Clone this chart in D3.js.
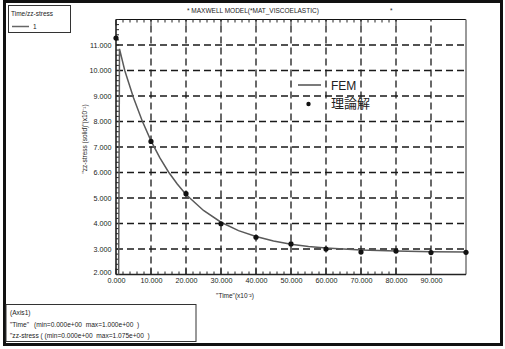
<!DOCTYPE html>
<meta charset="utf-8">
<script src="https://d3js.org/d3.v7.min.js"></script>
<style>
  body { margin: 0; background: #fff; }
  text { font-family: "Liberation Sans", Arial, sans-serif; fill: #222; }
</style>
<div id="chart"></div>
<script>
// data
var xTicks = [0, 10, 20, 30, 40, 50, 60, 70, 80, 90];
var yTicks = [2, 3, 4, 5, 6, 7, 8, 9, 10, 11];

// FEM curve (time x10^-2, stress x10^-1)
var femTime   = [0.7, 1, 2.5, 5, 7.5, 10, 12.5, 15, 17.5, 20, 25, 30, 35, 40, 45, 50, 55, 60, 70, 80, 90, 100];
var femStress = [0, 10.85, 10.0, 8.93, 8.02, 7.24, 6.58, 6.02, 5.55, 5.14, 4.51, 4.05, 3.72, 3.49, 3.31, 3.19, 3.10, 3.04, 2.96, 2.92, 2.89, 2.88];

// theoretical solution points
var theoTime   = [0, 10, 20, 30, 40, 50, 60, 70, 80, 90, 100];
var theoStress = [11.27, 7.22, 5.17, 3.99, 3.46, 3.2, 3.0, 2.88, 2.92, 2.86, 2.87];

var W = 505, H = 349;
var svg = d3.select("#chart").append("svg")
    .attr("width", W)
    .attr("height", H);

var x = d3.scaleLinear().domain([0, 100]).range([116, 466]);
var y = d3.scaleLinear().domain([2, 12]).range([274.5, 19.5]);

// outer frame
svg.append("rect")
    .attr("x", 4.5).attr("y", 1.5)
    .attr("width", 497).attr("height", 343)
    .attr("fill", "none").attr("stroke", "#111").attr("stroke-width", 3);

// top-left legend box
svg.append("rect")
    .attr("x", 8.5).attr("y", 5.5).attr("width", 62).attr("height", 27)
    .attr("fill", "none").attr("stroke", "#333").attr("stroke-width", 1);
svg.append("text").attr("x", 11).attr("y", 16).style("font-size", "6.5px").text("Time/zz-stress");
svg.append("line").attr("x1", 12).attr("x2", 29).attr("y1", 26.5).attr("y2", 26.5)
    .attr("stroke", "#666").attr("stroke-width", 1.5);
svg.append("text").attr("x", 33).attr("y", 29).style("font-size", "6.5px").text("1");

// title
svg.append("text").attr("x", 187).attr("y", 13).style("font-size", "6.5px")
    .text("* MAXWELL MODEL(*MAT_VISCOELASTIC)");
svg.append("text").attr("x", 390).attr("y", 13).style("font-size", "6.5px").text("*");

// grid
var grid = svg.append("g").attr("stroke", "#1a1a1a").attr("stroke-width", 1.3)
    .attr("stroke-dasharray", "7,4");
grid.selectAll(".vg").data(xTicks.slice(1)).enter().append("line")
    .attr("x1", d => x(d)).attr("x2", d => x(d))
    .attr("y1", y(2)).attr("y2", y(12));
grid.selectAll(".hg").data(yTicks.slice(1)).enter().append("line")
    .attr("x1", x(0)).attr("x2", x(100))
    .attr("y1", d => y(d)).attr("y2", d => y(d));

// plot borders
svg.append("line").attr("x1", x(0)).attr("x2", x(100)).attr("y1", y(12)).attr("y2", y(12))
    .attr("stroke", "#111").attr("stroke-width", 1.2);
svg.append("line").attr("x1", x(100)).attr("x2", x(100)).attr("y1", y(12)).attr("y2", y(2))
    .attr("stroke", "#777").attr("stroke-width", 1.5);

// minor ticks
var minorX = d3.range(0, 81, 2);
var minorY = d3.range(2, 12.01, 0.2);
var ticks = svg.append("g").attr("stroke", "#222").attr("stroke-width", 1);
ticks.selectAll(".bt").data(minorX).enter().append("line")
    .attr("x1", d => x(d)).attr("x2", d => x(d))
    .attr("y1", y(2)).attr("y2", d => y(2) - (d % 10 === 0 ? 6 : 3));
ticks.selectAll(".tt").data(minorX).enter().append("line")
    .attr("x1", d => x(d)).attr("x2", d => x(d))
    .attr("y1", y(12)).attr("y2", d => y(12) + (d % 10 === 0 ? 6 : 3));
ticks.selectAll(".lt").data(minorY).enter().append("line")
    .attr("y1", d => y(d)).attr("y2", d => y(d))
    .attr("x1", x(0)).attr("x2", x(0) + 3);

// axes (labels)
var xAxis = svg.append("g").attr("transform", "translate(0," + y(2) + ")")
    .call(d3.axisBottom(x).tickValues(xTicks).tickFormat(d3.format(".3f")).tickSize(0).tickPadding(3.5));
var yAxis = svg.append("g").attr("transform", "translate(" + x(0) + ",0)")
    .call(d3.axisLeft(y).tickValues(yTicks).tickFormat(d3.format(".3f")).tickSize(0).tickPadding(4.5));
[xAxis, yAxis].forEach(function(a) {
  a.select(".domain").remove();
  a.selectAll("text").style("font-size", "7.2px").style("font-family", "'Liberation Sans', Arial, sans-serif").attr("fill", "#333");
});
// lowest y label sits a touch higher so it clears the 0.000 label
yAxis.selectAll(".tick").filter(d => d === 2).select("text").attr("dy", "-0.05em");

svg.append("line").attr("x1", x(0)).attr("x2", x(100)).attr("y1", y(2)).attr("y2", y(2))
    .attr("stroke", "#222").attr("stroke-width", 1.5);
svg.append("line").attr("x1", x(0)).attr("x2", x(0)).attr("y1", y(2)).attr("y2", y(12))
    .attr("stroke", "#222").attr("stroke-width", 1.6);

// axis titles
svg.append("text").attr("x", 235).attr("y", 298).attr("text-anchor", "middle")
    .style("font-size", "6.5px").text("\"Time\"(x10\u207B\u00B2)");
svg.append("text").attr("transform", "translate(87,139) rotate(-90)").attr("text-anchor", "middle")
    .style("font-size", "6.5px").text("\"zz-stress (solid)\"(x10\u207B\u00B9)");

// FEM curve
svg.append("clipPath").attr("id", "clip").append("rect")
    .attr("x", x(0)).attr("y", y(12)).attr("width", x(100) - x(0)).attr("height", y(2) - y(12));
var femData = femTime.map((t, i) => [t, femStress[i]]);
svg.append("path").datum(femData)
    .attr("clip-path", "url(#clip)")
    .attr("fill", "none").attr("stroke", "#5a5a5a").attr("stroke-width", 1.5)
    .attr("d", d3.line().x(d => x(d[0])).y(d => y(d[1])));

// theory points
svg.selectAll(".pt").data(theoTime).enter().append("circle")
    .attr("cx", d => x(d)).attr("cy", (d, i) => y(theoStress[i]))
    .attr("r", 2.6).attr("fill", "#111");

// inner legend
svg.append("line").attr("x1", 298).attr("x2", 321).attr("y1", 85).attr("y2", 85)
    .attr("stroke", "#333").attr("stroke-width", 1.3);
svg.append("text").attr("x", 331).attr("y", 90).style("font-size", "12px").text("FEM");
svg.append("circle").attr("cx", 308.5).attr("cy", 104).attr("r", 2.2).attr("fill", "#111");
svg.append("text").attr("x", 331).attr("y", 107.5)
    .style("font-size", "13px").style("font-family", "'Noto Sans CJK JP', sans-serif").text("理論解");

// bottom info box
svg.append("rect")
    .attr("x", 6).attr("y", 304.5).attr("width", 190).attr("height", 37)
    .attr("fill", "none").attr("stroke", "#333").attr("stroke-width", 1);
var info = svg.append("g").style("font-size", "6.6px");
info.append("text").attr("x", 10).attr("y", 315).text("(Axis1)");
info.append("text").attr("x", 10).attr("y", 326.5).text("\"Time\"");
info.append("text").attr("x", 34).attr("y", 326.5).attr("xml:space", "preserve")
    .text("(min=0.000e+00  max=1.000e+00  )");
info.append("text").attr("x", 10).attr("y", 338).attr("xml:space", "preserve")
    .text("\"zz-stress ( (min=0.000e+00  max=1.075e+00  )");
</script>
